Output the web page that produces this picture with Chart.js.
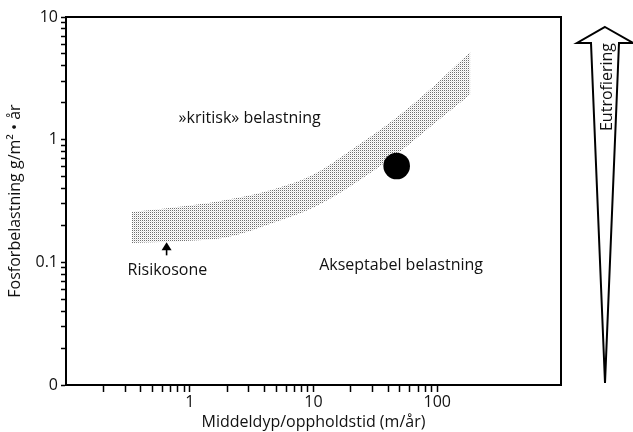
<!DOCTYPE html>
<html>
<head>
<meta charset="utf-8">
<script src="https://cdn.jsdelivr.net/npm/chart.js@4"></script>
<style>
  html, body { margin: 0; padding: 0; background: #fff; }
  #wrap { width: 633px; height: 432px; }
</style>
</head>
<body>
<div id="wrap"><canvas id="c"></canvas></div>
<script>
// band ("risk zone"), x in m/år, y in g/m2·år
const bandX = [0.34, 1, 2, 5, 10, 20, 50, 100, 185];
const bandUpper = [0.257, 0.29, 0.323, 0.40, 0.52, 0.82, 1.6, 2.9, 5.2];
const bandLower = [0.144, 0.15, 0.16, 0.214, 0.28, 0.42, 0.80, 1.42, 2.34];

// the single lake marked with a dot
const lakeX = [47];
const lakeY = [0.61];

// axis ticks
const xTickValues = [0.2, 0.3, 0.4, 0.5, 0.6, 0.7, 0.8, 0.9, 1, 2, 3, 4, 5, 6, 7, 8, 9, 10,
  20, 30, 40, 50, 60, 70, 80, 90, 100];
const xLabelValues = [1, 10, 100];
const xTickLabels = ['1', '10', '100'];
const yTickValues = [0.01, 0.02, 0.03, 0.04, 0.05, 0.06, 0.07, 0.08, 0.09, 0.1,
  0.2, 0.3, 0.4, 0.5, 0.6, 0.7, 0.8, 0.9, 1, 2, 3, 4, 5, 6, 7, 8, 9, 10];
const yLabelValues = [0.01, 0.1, 1, 10];
const yTickLabels = ['0', '0.1', '1', '10'];

// text placed in data coordinates
const notes = [
  {text: '»kritisk» belastning', x: 3.05, y: 1.5},
  {text: 'Risikosone', x: 0.66, y: 0.086},
  {text: 'Akseptabel belastning', x: 51, y: 0.094}
];

const FONT = '"Open Sans", "DejaVu Sans", sans-serif';

function labelFor(values, labels) {
  return (v) => {
    const i = values.findIndex(a => Math.abs(a - v) / a < 1e-6);
    return i >= 0 ? labels[i] : '';
  };
}

const canvas = document.getElementById('c');
const ctx = canvas.getContext('2d');

// stippled grey like the print
const pc = document.createElement('canvas');
pc.width = 2; pc.height = 2;
const pctx = pc.getContext('2d');
pctx.fillStyle = '#fff'; pctx.fillRect(0, 0, 2, 2);
pctx.fillStyle = '#6e6e6e'; pctx.fillRect(0, 0, 1, 1);
pctx.fillStyle = '#e2e2e2'; pctx.fillRect(1, 1, 1, 1);
const stipple = ctx.createPattern(pc, 'repeat');

const decor = {
  id: 'decor',
  afterDatasetsDraw(chart) {
    const {ctx, chartArea: a, scales: {x, y}} = chart;
    ctx.save();
    // top and right frame lines
    ctx.strokeStyle = '#000';
    ctx.lineWidth = 2;
    ctx.beginPath();
    ctx.moveTo(a.left, a.top); ctx.lineTo(a.right, a.top); ctx.lineTo(a.right, a.bottom);
    ctx.stroke();

    // notes
    ctx.fillStyle = '#111';
    ctx.font = '16px ' + FONT;
    ctx.textAlign = 'center';
    ctx.textBaseline = 'middle';
    notes.forEach(n => ctx.fillText(n.text, x.getPixelForValue(n.x), y.getPixelForValue(n.y)));

    // little arrow under the band
    const ax = x.getPixelForValue(0.65);
    const yTip = y.getPixelForValue(0.146);
    const yTail = y.getPixelForValue(0.114);
    ctx.fillStyle = '#000';
    ctx.lineWidth = 1.6;
    ctx.beginPath(); ctx.moveTo(ax, yTail); ctx.lineTo(ax, yTip + 5); ctx.stroke();
    ctx.beginPath(); ctx.moveTo(ax, yTip); ctx.lineTo(ax - 5, yTip + 8); ctx.lineTo(ax + 5, yTip + 8);
    ctx.closePath(); ctx.fill();

    // Eutrofiering arrow to the right of the plot
    const cx = a.right + 44;
    const top = a.top + 10;
    const headY = top + 16;
    ctx.lineWidth = 2;
    ctx.lineJoin = 'miter';
    ctx.beginPath();
    ctx.moveTo(cx, top);
    ctx.lineTo(cx + 28, headY);
    ctx.lineTo(cx + 14, headY);
    ctx.lineTo(cx, a.bottom - 2);
    ctx.lineTo(cx - 14, headY);
    ctx.lineTo(cx - 28, headY);
    ctx.closePath();
    ctx.stroke();

    ctx.translate(cx + 2, top + 60);
    ctx.rotate(-Math.PI / 2);
    ctx.fillStyle = '#111';
    ctx.fillText('Eutrofiering', 0, 0);
    ctx.restore();
  }
};

new Chart(ctx, {
  type: 'scatter',
  data: {
    datasets: [
      {
        data: lakeX.map((v, i) => ({x: v, y: lakeY[i]})),
        order: -1,
        pointRadius: 13.3,
        pointBackgroundColor: '#000',
        pointBorderWidth: 0
      },
      {
        data: bandX.map((v, i) => ({x: v, y: bandUpper[i]})),
        showLine: true,
        borderWidth: 0,
        borderColor: 'rgba(0,0,0,0)',
        pointRadius: 0,
        cubicInterpolationMode: 'monotone',
        fill: '+1',
        backgroundColor: stipple
      },
      {
        data: bandX.map((v, i) => ({x: v, y: bandLower[i]})),
        showLine: true,
        borderWidth: 0,
        borderColor: 'rgba(0,0,0,0)',
        pointRadius: 0,
        cubicInterpolationMode: 'monotone',
        fill: false
      }
    ]
  },
  options: {
    responsive: true,
    maintainAspectRatio: false,
    animation: false,
    layout: {padding: {top: 17, right: 72, left: 0, bottom: 0}},
    plugins: {legend: {display: false}, tooltip: {enabled: false}},
    scales: {
      x: {
        type: 'logarithmic',
        min: 0.1,
        max: 1000,
        afterBuildTicks: s => { s.ticks = xTickValues.map(v => ({value: v})); },
        afterFit: s => { s.height = 47; },
        grid: {drawOnChartArea: false, drawTicks: true, tickLength: 7, tickColor: '#000', tickWidth: 1.5},
        border: {color: '#000', width: 2},
        ticks: {
          autoSkip: false, maxRotation: 0, padding: 1,
          color: '#111', font: {size: 16, family: FONT},
          callback: labelFor(xLabelValues, xTickLabels)
        },
        title: {
          display: true, text: 'Middeldyp/oppholdstid (m/år)',
          color: '#111', font: {size: 16, family: FONT}, padding: {top: 0, bottom: 0}
        }
      },
      y: {
        type: 'logarithmic',
        min: 0.01,
        max: 10,
        afterBuildTicks: s => { s.ticks = yTickValues.map(v => ({value: v})); },
        afterFit: s => { s.width = 66; },
        grid: {drawOnChartArea: false, drawTicks: true, tickLength: 5, tickColor: '#000', tickWidth: 1.5},
        border: {color: '#000', width: 2},
        ticks: {
          autoSkip: false, padding: 3,
          color: '#111', font: {size: 16, family: FONT},
          callback: labelFor(yLabelValues, yTickLabels)
        },
        title: {
          display: true, text: 'Fosforbelastning g/m² • år',
          color: '#111', font: {size: 16, family: FONT}, padding: {top: 6, bottom: 0}
        }
      }
    }
  },
  plugins: [decor]
});
</script>
</body>
</html>
